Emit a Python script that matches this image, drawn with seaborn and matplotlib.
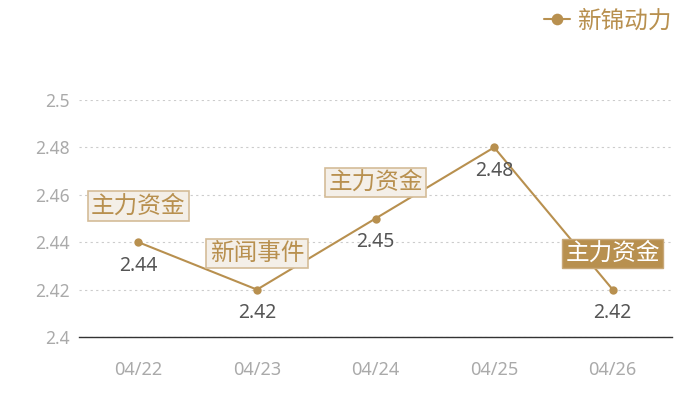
import seaborn as sns
import matplotlib.pyplot as plt
import pandas as pd

# data
dates = ['04/22', '04/23', '04/24', '04/25', '04/26']
values = [2.44, 2.42, 2.45, 2.48, 2.42]
series_name = '新锦动力'
# event tags above points (None = no tag), highlighted = filled box
tags = ['主力资金', '新闻事件', '主力资金', None, '主力资金']
highlighted = [False, False, False, False, True]
y_ticks = [2.4, 2.42, 2.44, 2.46, 2.48, 2.5]

gold = '#b8904f'

sns.set_theme(style='white')
plt.rcParams['font.family'] = ['Noto Sans', 'Noto Sans CJK SC', 'DejaVu Sans']

df = pd.DataFrame({'date': dates, 'value': values})

fig = plt.figure(figsize=(7, 4), dpi=100)
ax = fig.add_axes([0.113, 0.1575, 0.847, 0.5925])

sns.lineplot(data=df, x='date', y='value', ax=ax, color=gold, marker='o',
             markersize=6, markeredgewidth=0, linewidth=1.5, label=series_name,
             legend=False)

ax.set_xlim(-0.5, len(dates) - 0.5)
ax.set_ylim(2.4, 2.5)
ax.set_yticks(y_ticks)
ax.set_yticklabels([f'{t:g}' for t in y_ticks])
ax.set_xlabel('')
ax.set_ylabel('')
ax.yaxis.grid(True, linestyle=(0, (2, 3)), color='#cccccc', linewidth=0.8)
ax.xaxis.grid(False)
for side in ['top', 'right', 'left']:
    ax.spines[side].set_visible(False)
ax.spines['bottom'].set_color('#333333')
ax.spines['bottom'].set_linewidth(1)
ax.tick_params(axis='both', length=0, labelcolor='#aaaaaa')
ax.tick_params(axis='x', pad=17, labelsize=13)
ax.tick_params(axis='y', pad=7, labelsize=12.5)

# value labels under each point
for i, v in enumerate(values):
    ax.annotate(f'{v:g}', (i, v), xytext=(0, -17), textcoords='offset points',
                ha='center', va='center', fontsize=14, color='#555555')

# event tag boxes
for i, (tag, hl) in enumerate(zip(tags, highlighted)):
    if tag is None:
        continue
    if hl:
        box = dict(boxstyle='square,pad=0.14', fc=gold, ec='#c8a878', lw=1)
        tc = 'white'
    else:
        box = dict(boxstyle='square,pad=0.14', fc='#f4efe8', ec='#d4bc98', lw=1.2)
        tc = gold
    ax.annotate(tag, (i, values[i]), xytext=(0, 26), textcoords='offset points',
                ha='center', va='center', fontsize=17, color=tc, bbox=box,
                family=['Noto Sans CJK SC', 'DejaVu Sans'], zorder=5)

handles, labels = ax.get_legend_handles_labels()
leg = fig.legend(handles, labels, loc='upper right', bbox_to_anchor=(0.98, 1.012),
                 frameon=False, markerscale=1.4,
                 prop={'family': ['Noto Sans CJK SC', 'DejaVu Sans'], 'size': 17},
                 handlelength=1.1, handletextpad=0.3, borderaxespad=0.2)
for t in leg.get_texts():
    t.set_color(gold)

fig.savefig('out.png', dpi=100)
